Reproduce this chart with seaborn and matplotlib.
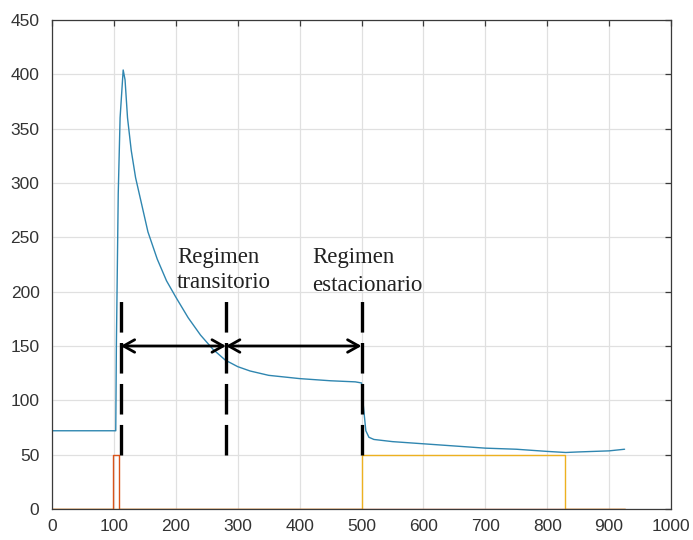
import numpy as np
import pandas as pd
import matplotlib
matplotlib.use("Agg")
import matplotlib.pyplot as plt
import seaborn as sns

# ---- data ----
blue_x = [0, 103, 104, 107, 110, 115, 118, 122, 128, 135, 145, 155, 170, 185, 200, 220,
          240, 260, 280, 300, 320, 350, 400, 450, 490, 500, 503, 507, 512, 520, 550,
          600, 650, 700, 750, 800, 830, 850, 900, 925]
blue_y = [72, 72, 150, 290, 360, 404, 395, 360, 330, 305, 280, 255, 230, 210, 195, 176,
          160, 147, 137, 131, 127, 123, 120, 118, 117, 116, 95, 72, 66, 64, 62,
          60, 58, 56, 55, 53, 52, 52.5, 53.5, 55]
red_x = [0, 99, 99, 108, 108, 925]
red_y = [0, 0, 50, 50, 0, 0]
yellow_x = [0, 500, 500, 829, 829, 925]
yellow_y = [0, 0, 50, 50, 0, 0]

marker_x = [111, 281, 500]          # dashed vertical markers
marker_y = [50, 195]
arrow_y = 150
label1 = ["Regimen", "transitorio"]
label2 = ["Regimen", "estacionario"]
label1_pos = (202, [226, 203])
label2_pos = (421, [226, 201])

x_ticks = list(range(0, 1001, 100))
y_ticks = list(range(0, 451, 50))

# ---- style ----
sns.set_style("white")
plt.rcParams["font.family"] = ["Liberation Sans", "DejaVu Sans"]
plt.rcParams["lines.scale_dashes"] = False

fig = plt.figure(figsize=(6.93, 5.40), dpi=100)
ax = fig.add_axes([52 / 693, 1 - 509 / 540, (671 - 52) / 693, (509 - 20) / 540])

df_b = pd.DataFrame({"x": blue_x, "y": blue_y})
df_r = pd.DataFrame({"x": red_x, "y": red_y})
df_yl = pd.DataFrame({"x": yellow_x, "y": yellow_y})

sns.lineplot(data=df_yl, x="x", y="y", sort=False, estimator=None, color="#EDB120", lw=1.0, ax=ax)
sns.lineplot(data=df_r, x="x", y="y", sort=False, estimator=None, color="#D95319", lw=1.0, ax=ax)
sns.lineplot(data=df_b, x="x", y="y", sort=False, estimator=None, color="#2f86b0", lw=1.0, ax=ax)

# dashed markers
for mx in marker_x:
    ax.plot([mx, mx], marker_y, color="black", lw=2.4, dashes=(22, 7.5), solid_capstyle="butt",
            dash_capstyle="butt")

# double arrows
for a, b in [(marker_x[0], marker_x[1]), (marker_x[1], marker_x[2])]:
    ax.annotate("", xy=(b, arrow_y), xytext=(a, arrow_y),
                arrowprops=dict(arrowstyle="<->,head_length=0.8,head_width=0.45",
                                mutation_scale=10, lw=2.0, color="black",
                                shrinkA=0, shrinkB=0))

for (lx, lys), lab in [(label1_pos, label1), (label2_pos, label2)]:
    for ly, t in zip(lys, lab):
        ax.text(lx, ly, t, family=["Liberation Serif", "DejaVu Serif"], fontsize=16.5,
                color="#222222", ha="left", va="baseline")

ax.set_xlim(0, 1000)
ax.set_ylim(0, 450)
ax.set_xticks(x_ticks)
ax.set_yticks(y_ticks)
ax.set_xlabel("")
ax.set_ylabel("")
ax.grid(True, color="#e0e0e0", lw=0.9)
ax.set_axisbelow(True)
for s in ax.spines.values():
    s.set_color("#3a3a3a")
    s.set_linewidth(0.9)
ax.tick_params(axis="both", direction="in", length=4, width=0.9, color="#3a3a3a",
               top=True, right=True, labelsize=12.5, labelcolor="#333333")
ax.tick_params(axis="x", pad=7)
ax.tick_params(axis="y", pad=9)

fig.savefig("out.png", dpi=100)
